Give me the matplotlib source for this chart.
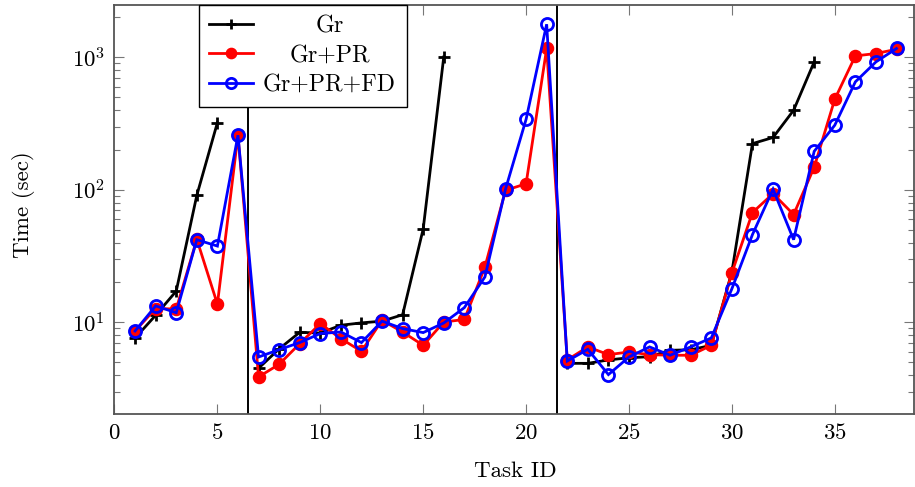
import numpy as np
import matplotlib
matplotlib.use('Agg')
import matplotlib.pyplot as plt
from matplotlib.ticker import LogLocator, NullFormatter, FixedLocator, LogFormatterSciNotation

nan = np.nan
task_ids = list(range(1, 39))
gr = [7.6, 11.3, 17.2, 90.8, 321, nan, 4.5, 6.3, 8.4, 8.3, 9.5, 9.9, 10.2, 11.4, 50.6, 1005,
      nan, nan, nan, nan, nan,
      4.9, 4.9, 5.2, 5.4, 5.5, 6.15, 6.2, 6.7, 24, 223, 248, 398, 922,
      nan, nan, nan, nan]
gr_pr = [8.6, 12.7, 12.6, 42.3, 13.7, 258, 3.87, 4.82, 6.9, 9.77, 7.53, 6.04, 10.35, 8.45, 6.7, 10.05,
         10.5, 26.1, 99, 111, 1164,
         5.2, 6.52, 5.7, 5.97, 5.7, 5.64, 5.64, 6.7, 23.6, 67.3, 93.5, 65, 148, 482, 1023, 1067, 1148]
gr_pr_fd = [8.6, 13.3, 11.8, 42, 37.6, 258, 5.47, 6.22, 7.03, 8.22, 8.45, 7.03, 10.2, 8.96, 8.36, 9.88,
            12.9, 22.0, 101, 340, 1774,
            5.1, 6.25, 4.03, 5.47, 6.52, 5.64, 6.52, 7.62, 17.9, 45.9, 101, 42, 195, 307, 652, 922, 1164]
labels = ["Gr", "Gr+PR", "Gr+PR+FD"]
separators = [6.5, 21.5]
xticks = [0, 5, 10, 15, 20, 25, 30, 35]

plt.rcParams['font.family'] = 'cmr10'
plt.rcParams['mathtext.fontset'] = 'cm'
plt.rcParams['axes.formatter.use_mathtext'] = True
plt.rcParams['font.size'] = 16.5

fig = plt.figure(figsize=(9.15, 4.87), dpi=100)
ax = fig.add_axes([114.5/915, (487-413.5)/487, (914-114.5)/915, (413.5-4.5)/487])

for xs in separators:
    ax.axvline(xs, color='black', lw=1.4, zorder=1)

ax.plot(task_ids, gr, color='black', lw=2.0, marker='+', ms=8.5, mew=2.0,
        solid_joinstyle='miter', label=labels[0], zorder=3)
ax.plot(task_ids, gr_pr, color='red', lw=2.0, marker='o', ms=8.7, mfc='red', mec='red',
        solid_joinstyle='miter', label=labels[1], zorder=4)
ax.plot(task_ids, gr_pr_fd, color='blue', lw=2.0, marker='o', ms=8.7, mfc='none', mec='blue', mew=2.0,
        solid_joinstyle='miter', label=labels[2], zorder=5)

ax.set_yscale('log')
ax.set_ylim(2.05, 2500)
ax.set_xlim(0, 38.85)
ax.xaxis.set_major_locator(FixedLocator(xticks))
ax.yaxis.set_major_locator(FixedLocator([10, 100, 1000]))
ax.yaxis.set_major_formatter(LogFormatterSciNotation())
ax.yaxis.set_minor_locator(LogLocator(base=10, subs=np.arange(2, 10), numticks=20))
ax.yaxis.set_minor_formatter(NullFormatter())

for sp in ax.spines.values():
    sp.set_color('#555555')
    sp.set_linewidth(1.3)

ax.tick_params(which='both', direction='in', top=True, right=True, color='#777777', width=0.8)
ax.tick_params(which='major', length=7, pad=7)
ax.tick_params(which='minor', length=4.5)

ax.set_xlabel('Task ID')
ax.set_ylabel('Time (sec)')
ax.xaxis.label.set_va('center')
ax.xaxis.set_label_coords(0.501, -0.141)
ax.yaxis.label.set_va('center')
ax.yaxis.set_label_coords(-0.114, 0.51)

leg = ax.legend(loc='upper left', bbox_to_anchor=((198.5-114.5)/799.5, 1.0), borderaxespad=0,
                fancybox=False, framealpha=1, edgecolor='black', numpoints=1, fontsize=17.2,
                handlelength=1.85, handletextpad=0.4, borderpad=0.45, labelspacing=0.3,
                markerscale=0.85)
leg.get_frame().set_linewidth(1.0)

fig.canvas.draw()
r = fig.canvas.get_renderer()
texts = leg.get_texts()
widths = [t.get_window_extent(r).width for t in texts]
wmax = max(widths)
for t, w in zip(texts, widths):
    t.set_position(((wmax - w) / 2.0, 0))

fig.savefig('out.png', dpi=100)
